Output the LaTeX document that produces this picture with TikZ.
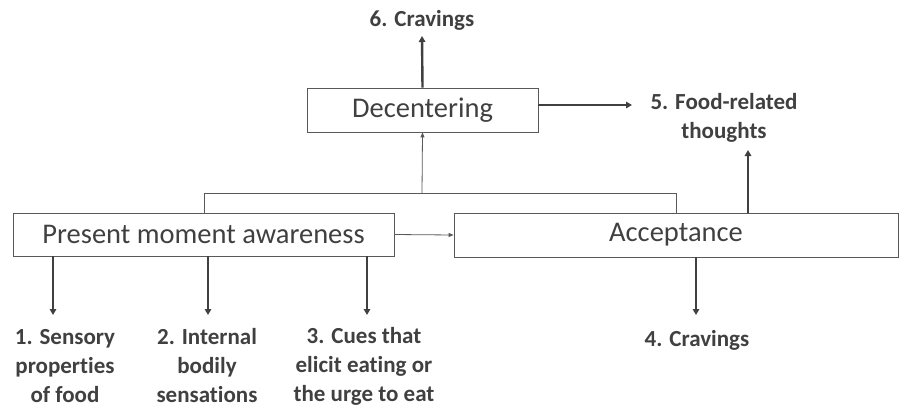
\documentclass[tikz,border=0pt]{standalone}
\usepackage{fontspec}
\setmainfont{Carlito}[RawFeature={-liga;-dlig;-clig}]
\usetikzlibrary{arrows.meta}
\definecolor{txt}{HTML}{404040}
\definecolor{edge}{HTML}{595959}
\begin{document}
\begin{tikzpicture}[x=1pt,y=-1pt,
  box/.style={draw=edge,line width=0.8pt,text=txt,font=\fontsize{28.5}{32}\selectfont,inner sep=0pt},
  lbl/.style={text=txt,font=\fontsize{23}{29}\selectfont\bfseries,align=center,inner sep=0pt},
  thick arrow/.style={draw=txt,line width=2.4pt,-{Triangle[length=6pt,width=6.5pt]}},
  thin arrow/.style={draw=edge,line width=0.8pt,-{Triangle[length=5pt,width=4pt]}},
  bracket/.style={draw=edge,line width=0.8pt}]
\useasboundingbox (0,0) rectangle (901,408);
% boxes
\node[box,minimum width=231pt,minimum height=44pt] (dec) at (422.5,110) {Decentering};
\node[box,minimum width=381pt,minimum height=43pt] (pma) at (203.5,234.5) {Present moment awareness};
\node[box,minimum width=444pt,minimum height=44pt] (acc) at (676,235) {Acceptance};
% labels
\node[lbl] (l6) at (422,20) {6. Cravings};
\node[lbl] (l5) at (724,118) {5. Food-related\\thoughts};
\node[lbl] (l1) at (65,366) {1. Sensory\\properties\\of food};
\node[lbl] (l2) at (207,366) {2. Internal\\bodily\\sensations};
\node[lbl] (l3) at (364,366) {3. Cues that\\elicit eating or\\the urge to eat};
\node[lbl] (l4) at (697,340) {4. Cravings};
% arrow end coordinates
\coordinate (e6) at (422,36);
\coordinate (e5) at (632,105);
\coordinate (e5b) at (748,150);
\coordinate (e1) at (53,315);
\coordinate (e2) at (208,315);
\coordinate (e3) at (367,315);
\coordinate (e4) at (696,315);
\coordinate (bl) at (204,193);
\coordinate (br) at (676,193);
\coordinate (bm) at (422,193);
% connectors
\draw[thick arrow] (dec.north) -- (e6);
\draw[thick arrow] (dec.east |- e5) -- (e5);
\draw[thick arrow] (acc.north -| e5b) -- (e5b);
\draw[thick arrow] (pma.south -| e1) -- (e1);
\draw[thick arrow] (pma.south -| e2) -- (e2);
\draw[thick arrow] (pma.south -| e3) -- (e3);
\draw[thick arrow] (acc.south -| e4) -- (e4);
\draw[bracket] (pma.north -| bl) -- (bl) -- (br) -- (acc.north -| br);
\draw[thin arrow] (bm) -- (dec.south);
\draw[thin arrow] (pma.east) -- (acc.west);
\end{tikzpicture}
\end{document}
